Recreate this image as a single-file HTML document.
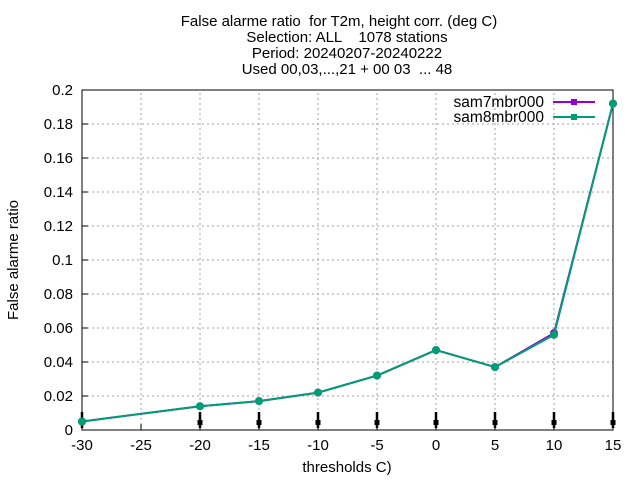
<!DOCTYPE html>
<html><head><meta charset="utf-8"><style>
body{margin:0;background:#fff;}
svg{display:block;font-family:"Liberation Sans",sans-serif;}
text{white-space:pre;}
</style></head><body>
<svg id="chart" width="640" height="480">
<g font-size="15" text-anchor="middle" fill="#000">
<text x="339" y="26" xml:space="preserve">False alarme ratio  for T2m, height corr. (deg C)</text>
<text x="347" y="42" xml:space="preserve">Selection: ALL    1078 stations</text>
<text x="347" y="58">Period: 20240207-20240222</text>
<text x="347" y="74">Used 00,03,...,21 + 00 03  ... 48</text>
</g>
<g id="grid"></g>
<g id="axes"></g>
<g id="series"></g>
<text x="347" y="472" font-size="15" text-anchor="middle">thresholds C)</text>
<text transform="translate(18,260) rotate(-90)" font-size="15" text-anchor="middle">False alarme ratio</text>
<g font-size="15.5">
<g>
<text x="544" y="107" text-anchor="end">sam7mbr000</text>
<line x1="553" y1="102" x2="595" y2="102" stroke="#9400d3" stroke-width="2"/>
<rect x="571" y="99" width="6" height="6" fill="#9400d3"/>
</g>
<g>
<text x="544" y="122" text-anchor="end">sam8mbr000</text>
<line x1="553" y1="117" x2="595" y2="117" stroke="#009e73" stroke-width="2"/>
<rect x="571" y="114" width="6" height="6" fill="#009e73"/>
</g>
</g>
</svg>
<script>
const thresholds=[-30,-20,-15,-10,-5,0,5,10,15];
const sam7=[0.005,0.014,0.017,0.022,0.032,0.047,0.037,0.057,0.192];
const sam8=[0.005,0.014,0.017,0.022,0.032,0.047,0.037,0.056,0.192];
const xTicks=[-30,-25,-20,-15,-10,-5,0,5,10,15];
const yTicks=[0,0.02,0.04,0.06,0.08,0.1,0.12,0.14,0.16,0.18,0.2];
const yTickLabels=["0","0.02","0.04","0.06","0.08","0.1","0.12","0.14","0.16","0.18","0.2"];
const X0=82,X1=613,Y0=430,Y1=90;
const xs=v=>X0+(v+30)/45*(X1-X0);
const ys=v=>Y0-v/0.2*(Y0-Y1);
const NS="http://www.w3.org/2000/svg";
function mk(tag,attrs,parent){const e=document.createElementNS(NS,tag);for(const k in attrs)e.setAttribute(k,attrs[k]);parent.appendChild(e);return e;}
const grid=document.getElementById('grid'),axes=document.getElementById('axes'),series=document.getElementById('series');
xTicks.forEach(t=>{
 const x=xs(t);
 if(t>-30&&t<15){const l=mk('line',{x1:x,y1:Y0,x2:x,y2:Y1,stroke:'#a0a0a0','stroke-dasharray':'2,3'},grid);
 
 }
 const tx=mk('text',{x:x,y:Y0+20,'font-size':'15','text-anchor':'middle'},axes);tx.textContent=t;
 
 
 mk('line',{x1:x,y1:Y0,x2:x,y2:Y0-6,stroke:'#000'},axes);
});
yTicks.forEach((t,i)=>{
 const y=ys(t);
 if(t>0&&t<0.2){const l=mk('line',{x1:X0,y1:y,x2:X1,y2:y,stroke:'#a0a0a0','stroke-dasharray':'2,3'},grid);
 
 }
 const tx=mk('text',{x:X0-9,y:y+5,'font-size':'15','text-anchor':'end'},axes);tx.textContent=yTickLabels[i];
 
 
 mk('line',{x1:X0,y1:y,x2:X0+6,y2:y,stroke:'#000'},axes);
});
const frame=mk('rect',{x:X0,y:Y1,width:X1-X0,height:Y0-Y1,fill:'none',stroke:'#000'},axes);


thresholds.forEach(t=>{
 const x=xs(t);
 const b=mk('g',{},axes);
 
 
 mk('line',{x1:x,y1:Y0-18,x2:x,y2:Y0-2,stroke:'#000','stroke-width':'2.5'},b);
 mk('rect',{x:x-2.5,y:Y0-10,width:5,height:5,fill:'#000'},b);
});
function draw(vals,color,name){
 const g=mk('g',{},series);
 
 
 const pts=thresholds.map((t,i)=>xs(t)+','+ys(vals[i])).join(' ');
 mk('polyline',{points:pts,fill:'none',stroke:color,'stroke-width':'2'},g);
 thresholds.forEach((t,i)=>{
  const p=mk('circle',{cx:xs(t),cy:ys(vals[i]),r:4,fill:color},g);
  
  
 });
}
draw(sam7,'#9400d3','series-sam7mbr000');
draw(sam8,'#009e73','series-sam8mbr000');
</script>
</body></html>
